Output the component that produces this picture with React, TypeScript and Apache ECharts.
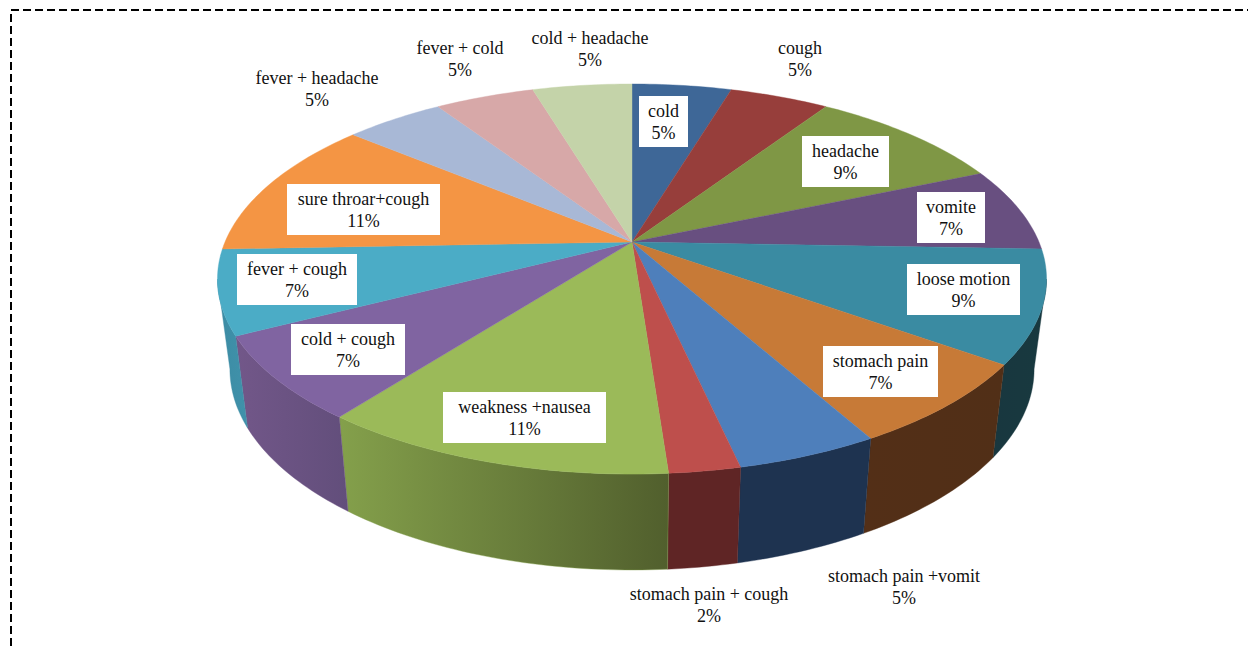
import React, { useEffect, useRef } from "react";
import * as echarts from "echarts";

const categories = [
  "cold", "cough", "headache", "vomite", "loose motion", "stomach pain",
  "stomach pain +vomit", "stomach pain + cough", "weakness +nausea", "cold + cough",
  "fever + cough", "sure throar+cough", "fever + headache", "fever + cold", "cold + headache",
];
const counts = [2, 2, 4, 3, 4, 3, 2, 1, 5, 3, 3, 5, 2, 2, 2];
const percentLabels = ["5%", "5%", "9%", "7%", "9%", "7%", "5%", "2%", "11%", "7%", "7%", "11%", "5%", "5%", "5%"];

const topColors = [
  "#3E6797", "#973E3B", "#7F9745", "#684F80", "#3A8BA2", "#C77A37", "#4E7FBB", "#BE4F4C",
  "#9BBA59", "#8064A1", "#4BACC6", "#F49544", "#A8B8D6", "#D7A8A8", "#C4D3A9",
];
const wallColors: [string, string][] = [
  ["#3E6797", "#3E6797"], ["#953D3B", "#953D3B"], ["#7E9645", "#7E9645"], ["#684F80", "#684F80"],
  ["#18373F", "#18393F"], ["#532F17", "#512F17"], ["#1E3350", "#1E3350"], ["#5F2525", "#5F2525"],
  ["#84A04B", "#515F2D"], ["#725789", "#624E7B"], ["#3C8BA3", "#4092AB"], ["#F69646", "#F69646"],
  ["#A8B8D6", "#A8B8D6"], ["#D7A8A8", "#D7A8A8"], ["#C4D3A9", "#C4D3A9"],
];
// label centre x, centre y, white box width (0 = no box)
const labelLayout: [number, number, number][] = [
  [663.5, 121.5, 49], [800, 58, 0], [845.5, 161.5, 87], [951, 217.5, 68], [963.5, 289.5, 113],
  [880.5, 371.5, 115], [904, 586.5, 0], [709, 604.5, 0], [524.5, 417.5, 163], [348, 349.5, 114],
  [297, 279.5, 120], [363.5, 209.5, 153], [317, 88, 0], [460, 58, 0], [590, 48, 0],
];

const CX = 632, CY = 242, A = 407, B = 188, K = 0.1897, DEPTH = 89, BOTTOM_SX = 0.97, BOTTOM_SY = 1.03;
const total = counts.reduce((s, v) => s + v, 0);
const rad = (d: number) => (d * Math.PI) / 180;
const TANGENT = (Math.acos(-K) * 180) / Math.PI;

function rim(deg: number): [number, number] {
  const t = rad(deg);
  const w = 1 + K * Math.cos(t);
  return [(A * Math.sin(t)) / w, (-B * Math.cos(t)) / w];
}
function arcPoints(from: number, to: number): [number, number][] {
  const n = Math.max(2, Math.ceil(Math.abs(to - from)));
  const out: [number, number][] = [];
  for (let i = 0; i <= n; i++) {
    const [dx, dy] = rim(from + ((to - from) * i) / n);
    out.push([dx, dy]);
  }
  return out;
}
function sliceRange(i: number): [number, number] {
  let sum = 0;
  for (let j = 0; j < i; j++) sum += counts[j];
  return [(sum / total) * 360, ((sum + counts[i]) / total) * 360];
}

function renderSlice(params: any) {
  const i = params.dataIndex;
  const [start, end] = sliceRange(i);
  const children: any[] = [];
  const a = Math.max(start, TANGENT);
  const b = Math.min(end, 360 - TANGENT);
  if (b > a) {
    const arc = arcPoints(a, b);
    const top = arc.map(([x, y]) => [CX + x, CY + y]);
    const bottom = arc.map(([x, y]) => [CX + BOTTOM_SX * x, CY + DEPTH + BOTTOM_SY * y]).reverse();
    const pts = top.concat(bottom);
    // the gradient runs from left to right on screen
    const fill = new echarts.graphic.LinearGradient(0, 0, 1, 0, [
      { offset: 0, color: wallColors[i][0] },
      { offset: 1, color: wallColors[i][1] },
    ]);
    children.push({
      type: "polygon",
      shape: { points: pts },
      style: { fill, stroke: wallColors[i][0], lineWidth: 0.4 },
    });
  }
  const arc = arcPoints(start, end).map(([x, y]) => [CX + x, CY + y]);
  children.push({
    type: "polygon",
    shape: { points: [[CX, CY], ...arc] },
    style: { fill: topColors[i], stroke: topColors[i], lineWidth: 0.4 },
  });
  return { type: "group", children };
}

function renderLabel(params: any) {
  const i = params.dataIndex;
  const [x, y, w] = labelLayout[i];
  const children: any[] = [];
  if (w > 0) {
    children.push({
      type: "rect",
      shape: { x: x - w / 2, y: y - 25.5, width: w, height: 51 },
      style: { fill: "#FFFFFF" },
    });
  }
  children.push({
    type: "text",
    x,
    y: y + 0.5,
    style: {
      text: `${categories[i]}\n${percentLabels[i]}`,
      fontFamily: "'Liberation Serif', serif",
      fontSize: 18,
      lineHeight: 22,
      fill: "#111111",
      align: "center",
      verticalAlign: "middle",
    },
  });
  return { type: "group", children };
}

export default function App() {
  const ref = useRef<HTMLDivElement>(null);
  useEffect(() => {
    const chart = echarts.init(ref.current!, undefined, { renderer: "svg" });
    const seriesData = counts.map((value, i) => ({ name: categories[i], value }));
    chart.setOption({
      animation: false,
      backgroundColor: "#FFFFFF",
      graphic: [
        {
          type: "polyline",
          shape: { points: [[11, 646], [11, 10], [1248, 10]] },
          style: { fill: "none", stroke: "#000000", lineWidth: 2, lineDash: [8, 4] },
        },
      ],
      series: [
        { type: "custom", coordinateSystem: "none", silent: true, data: seriesData, renderItem: renderSlice, z: 2 },
        { type: "custom", coordinateSystem: "none", silent: true, data: seriesData, renderItem: renderLabel, z: 3 },
      ],
    });
    return () => chart.dispose();
  }, []);
  return <div ref={ref} style={{ position: "absolute", left: 0, top: 0, width: 1248, height: 646 }} />;
}
